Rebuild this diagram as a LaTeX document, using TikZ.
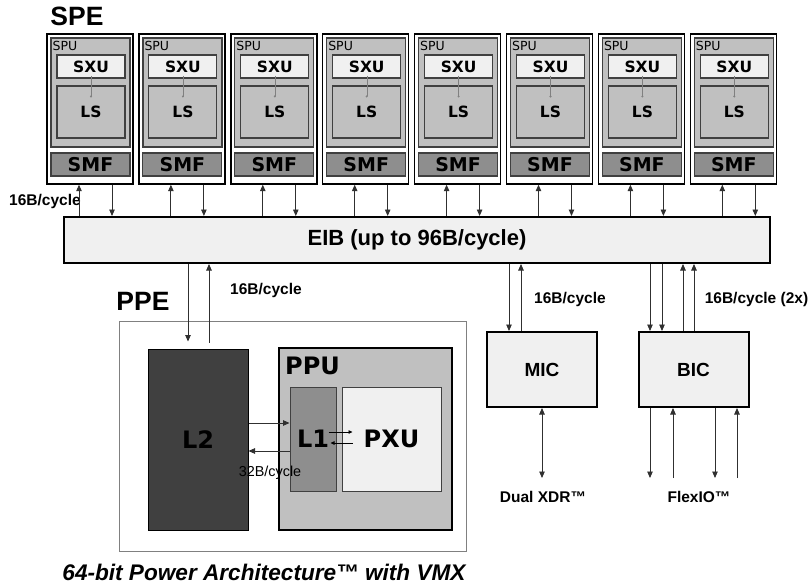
\documentclass[tikz,border=0pt]{standalone}
\usepackage{fontspec}
\setmainfont{Liberation Sans}
\newfontfamily\dvsans{DejaVu Sans}
\usetikzlibrary{arrows.meta}
\definecolor{boxlight}{HTML}{F0F0F0}
\definecolor{unitgray}{HTML}{C0C0C0}
\definecolor{smfgray}{HTML}{8E8E8E}
\definecolor{cachedark}{HTML}{404040}
\definecolor{edgegray}{HTML}{303030}
\tikzset{
  darr/.style={-{Triangle[length=6.5pt,width=5.5pt]}, line width=0.9pt, draw=edgegray},
  tinyarr/.style={-{Triangle[length=4pt,width=3.5pt]}, line width=0.7pt},
  dotarr/.style={-{Circle[length=2pt]}, line width=0.4pt, draw=gray},
  speouter/.style={draw, line width=1.4pt, fill=white, minimum width=86pt, minimum height=150pt, inner sep=0pt},
  spubox/.style={draw=cachedark, line width=1.2pt, fill=unitgray, minimum width=79pt, minimum height=109pt, inner sep=0pt},
  sxubox/.style={draw=cachedark, line width=1.1pt, fill=boxlight, minimum width=68pt, minimum height=23pt, inner sep=0pt, font=\dvsans\bfseries\fontsize{15.5}{17}\selectfont},
  lsbox/.style={draw=cachedark, line width=1.1pt, fill=unitgray, minimum width=68pt, minimum height=52pt, inner sep=0pt, font=\dvsans\bfseries\fontsize{15.5}{17}\selectfont},
  smfbox/.style={draw=cachedark, line width=1.1pt, fill=smfgray, minimum width=79pt, minimum height=23pt, inner sep=0pt, font=\dvsans\bfseries\fontsize{19}{21}\selectfont},
  spulbl/.style={inner sep=0pt, font=\dvsans\fontsize{12.5}{14}\selectfont},
  eibbox/.style={draw, line width=2pt, fill=boxlight, minimum width=706pt, minimum height=46pt, inner sep=0pt, font=\bfseries\fontsize{22}{25}\selectfont},
  ppebox/.style={draw=gray, line width=0.9pt, fill=white, minimum width=347pt, minimum height=230pt, inner sep=0pt},
  l2box/.style={draw, line width=1pt, fill=cachedark, minimum width=100pt, minimum height=181pt, inner sep=0pt, font=\dvsans\bfseries\fontsize{24}{26}\selectfont},
  ppubox/.style={draw, line width=2pt, fill=unitgray, minimum width=173pt, minimum height=182pt, inner sep=0pt},
  ppulbl/.style={inner sep=0pt, font=\dvsans\bfseries\fontsize{24}{26}\selectfont},
  l1box/.style={draw=cachedark, line width=1pt, fill=smfgray, minimum width=46pt, minimum height=104pt, inner sep=0pt, font=\dvsans\bfseries\fontsize{24}{26}\selectfont},
  pxubox/.style={draw=cachedark, line width=1pt, fill=boxlight, minimum width=99pt, minimum height=104pt, inner sep=0pt, font=\dvsans\bfseries\fontsize{24}{26}\selectfont},
  iobox/.style={draw, line width=2pt, fill=boxlight, minimum width=110pt, minimum height=75pt, inner sep=0pt, font=\bfseries\fontsize{19}{22}\selectfont},
  biglbl/.style={inner sep=0pt, font=\bfseries\fontsize{26.5}{30}\selectfont},
  smllbl/.style={inner sep=0pt, font=\bfseries\fontsize{15.5}{18}\selectfont},
  rglbl/.style={inner sep=0pt, font=\fontsize{14.4}{17}\selectfont},
  caplbl/.style={inner sep=0pt, font=\bfseries\itshape\fontsize{22.6}{26}\selectfont}
}

\begin{document}
\begin{tikzpicture}[x=1pt, y=-1pt]
  \useasboundingbox (0,0) rectangle (809,586);
  % SPE row
  \node[biglbl, anchor=base] (spelabel) at (77,26) {SPE};
  \foreach \i in {0,...,7} {
    \pgfmathsetmacro{\cx}{90+91.9*\i}
    \node[speouter] (spe\i) at (\cx,109) {};
    \node[spubox] (spu\i) at (\cx+0.5,92.5) {};
    \node[spulbl, anchor=base west] at ([xshift=2pt,yshift=-13pt]spu\i.north west) {SPU};
    \node[sxubox] (sxu\i) at (\cx+1,66.5) {SXU};
    \node[lsbox] (ls\i) at (\cx+1,112) {LS};
    \draw[dotarr] ([yshift=3pt]sxu\i.south) -- ([yshift=-12pt]ls\i.north);
    \node[smfbox] (smf\i) at (\cx+0.5,164.5) {SMF};
  }
  \node[smllbl, anchor=base] (spebw) at (45,205) {16B/cycle};

  % EIB
  \node[eibbox] (eib) at (417,240) {EIB (up to 96B/cycle)};
  \foreach \i in {0,...,7} {
    \pgfmathsetmacro{\xu}{79+91.9*\i}
    \pgfmathsetmacro{\xd}{112+91.9*\i}
    \draw[darr] (eib.north -| \xu,0) -- (spe\i.south -| \xu,0);
    \draw[darr] (spe\i.south -| \xd,0) -- (eib.north -| \xd,0);
  }

  % PPE
  \node[biglbl, anchor=base] (ppelabel) at (143,310) {PPE};
  \node[ppebox] (ppe) at (292.5,436) {};
  \node[l2box] (l2) at (198,439.5) {L2};
  \node[ppubox] (ppu) at (365.5,439) {};
  \node[ppulbl, anchor=base west] (ppulabel) at ([xshift=7pt,yshift=-27pt]ppu.north west) {PPU};
  \node[l1box] (l1) at (313,439) {L1};
  \node[pxubox] (pxu) at (391.5,439) {PXU};
  \draw[darr, shorten >=7pt] (eib.south -| 188,0) -- (l2.north -| 188,0);
  \draw[darr, shorten <=6pt] (l2.north -| 209,0) -- (eib.south -| 209,0);
  \node[smllbl, anchor=base] (ppebw) at (266,294) {16B/cycle};
  \draw[darr] (l2.east |- 0,423) -- (l1.west |- 0,423);
  \draw[darr] (l1.west |- 0,451) -- (l2.east |- 0,451);
  \node[rglbl, anchor=base] (l1bw) at (270,476) {32B/cycle};
  \draw[tinyarr] ([xshift=-8pt,yshift=7pt]l1.east) -- ([xshift=16pt,yshift=7pt]l1.east);
  \draw[tinyarr] ([xshift=16pt,yshift=-4pt]l1.east) -- ([xshift=-6pt,yshift=-4pt]l1.east);

  % MIC and BIC
  \node[iobox] (mic) at (542,369.5) {MIC};
  \node[iobox] (bic) at (693.5,369.5) {BIC};
  \draw[darr] (eib.south -| 509,0) -- (mic.north -| 509,0);
  \draw[darr] (mic.north -| 521,0) -- (eib.south -| 521,0);
  \node[smllbl, anchor=base] (micbw) at (570,303) {16B/cycle};
  \foreach \xx in {650,662} {
    \draw[darr] (eib.south -| \xx,0) -- (bic.north -| \xx,0);
  }
  \foreach \xx in {683,694} {
    \draw[darr] (bic.north -| \xx,0) -- (eib.south -| \xx,0);
  }
  \node[smllbl, anchor=base] (bicbw) at (756.5,303) {16B/cycle (2x)};

  \coordinate (ioend) at (0,478);
  \draw[darr, {Triangle[length=6.5pt,width=5.5pt]}-{Triangle[length=6.5pt,width=5.5pt]}] (mic.south) -- (ioend -| mic.south);
  \node[smllbl, anchor=base] (xdr) at (543,502) {Dual XDR™};
  \foreach \xx in {650,715} {
    \draw[darr] (bic.south -| \xx,0) -- (ioend -| \xx,0);
  }
  \foreach \xx in {673,737} {
    \draw[darr] (ioend -| \xx,0) -- (bic.south -| \xx,0);
  }
  \node[smllbl, anchor=base] (flexio) at (699,502) {FlexIO™};

  \node[caplbl, anchor=base] (caption) at (264,580) {64-bit Power Architecture™ with VMX};
\end{tikzpicture}
\end{document}
